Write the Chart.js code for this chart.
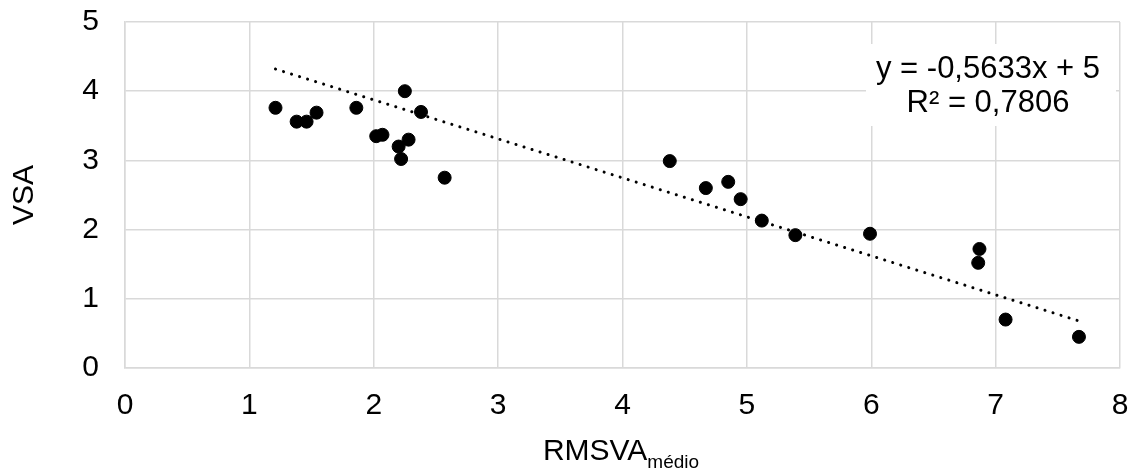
<!DOCTYPE html>
<html lang="pt-BR">
<head>
  <meta charset="UTF-8" />
  <title>VSA x RMSVA</title>
  <script src="https://cdn.jsdelivr.net/npm/chart.js"></script>
  <style>
    body { margin: 0; background: #fff; }
    #wrap { width: 1137px; height: 473px; }
  </style>
</head>
<body>
<div id="wrap"><canvas id="grafico" width="1137" height="473"></canvas></div>
<script>
  // valores
  const rmsva = [1.21, 1.38, 1.46, 1.54, 1.86, 2.02, 2.07, 2.20, 2.22, 2.25, 2.28, 2.38, 2.57,
                 4.38, 4.67, 4.85, 4.95, 5.12, 5.39, 5.99, 6.86, 6.87, 7.08, 7.67];
  const vsa   = [3.76, 3.56, 3.56, 3.69, 3.76, 3.35, 3.37, 3.20, 3.02, 4.00, 3.30, 3.70, 2.75,
                 2.99, 2.60, 2.69, 2.44, 2.13, 1.92, 1.94, 1.52, 1.72, 0.70, 0.45];
  // linha de tendência (extremos)
  const tendX = [1.21, 7.67];
  const tendY = [4.32, 0.68];
  const equacao = ['y = -0,5633x + 5', 'R² = 0,7806'];

  const FONTE = '"Liberation Sans", Arial, sans-serif';
  const cinza = '#d9d9d9';

  const textos = {
    id: 'textos',
    afterDraw(chart) {
      const ctx = chart.ctx;
      const area = chart.chartArea;
      ctx.save();
      // caixa da equação
      ctx.fillStyle = '#fff';
      ctx.fillRect(866, 44, 250, 82);
      ctx.fillStyle = '#000';
      ctx.font = '31px ' + FONTE;
      ctx.textAlign = 'center';
      ctx.textBaseline = 'middle';
      ctx.fillText(equacao[0], 988, 69);
      ctx.fillText(equacao[1], 988, 103);
      // título eixo y
      ctx.font = '30px ' + FONTE;
      ctx.save();
      ctx.translate(25, (area.top + area.bottom) / 2);
      ctx.rotate(-Math.PI / 2);
      ctx.fillText('VSA', 0, 0);
      ctx.restore();
      // título eixo x com subscrito
      ctx.textBaseline = 'alphabetic';
      ctx.textAlign = 'left';
      ctx.font = '30px ' + FONTE;
      const w1 = ctx.measureText('RMSVA').width;
      ctx.font = '19px ' + FONTE;
      const w2 = ctx.measureText('médio').width;
      const x0 = 621 - (w1 + w2) / 2;
      ctx.font = '30px ' + FONTE;
      ctx.fillText('RMSVA', x0, 460);
      ctx.font = '19px ' + FONTE;
      ctx.fillText('médio', x0 + w1, 468);
      ctx.restore();
    }
  };

  new Chart(document.getElementById('grafico'), {
    type: 'scatter',
    data: {
      datasets: [
        {
          label: 'VSA',
          data: rmsva.map((x, i) => ({ x, y: vsa[i] })),
          backgroundColor: '#000',
          borderColor: '#000',
          pointRadius: 6.5,
          pointHoverRadius: 6.5
        },
        {
          type: 'line',
          label: 'Tendência',
          data: tendX.map((x, i) => ({ x, y: tendY[i] })),
          borderColor: '#000',
          borderWidth: 3,
          borderDash: [0.1, 8.3],
          borderCapStyle: 'round',
          pointRadius: 0,
          fill: false
        }
      ]
    },
    options: {
      responsive: false,
      animation: false,
      layout: { padding: { top: 22, right: 17, left: 0, bottom: 0 } },
      plugins: { legend: { display: false }, tooltip: { enabled: false } },
      scales: {
        x: {
          type: 'linear',
          min: 0, max: 8,
          ticks: { stepSize: 1, color: '#000', padding: 20, font: { family: FONTE, size: 30 } },
          grid: { color: cinza, lineWidth: 1.5, drawTicks: false },
          border: { color: cinza, width: 1.5 },
          afterFit(s) { s.height = 105; s.paddingLeft = 0; s.paddingRight = 0; }
        },
        y: {
          min: 0, max: 5,
          ticks: { stepSize: 1, color: '#000', padding: 26, font: { family: FONTE, size: 30 } },
          grid: { color: cinza, lineWidth: 1.5, drawTicks: false },
          border: { color: cinza, width: 1.5 },
          afterFit(s) { s.width = 125; s.paddingTop = 0; s.paddingBottom = 0; }
        }
      }
    },
    plugins: [textos]
  });
</script>
</body>
</html>
